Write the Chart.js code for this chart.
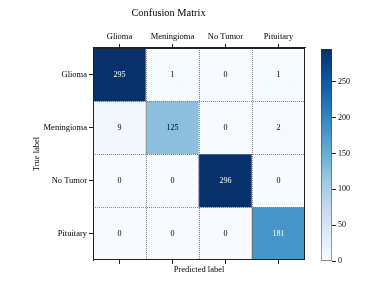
<!DOCTYPE html>
<html>
<head>
<meta charset="utf-8">
<script src="https://cdn.jsdelivr.net/npm/chart.js@4"></script>
<style>
html,body{margin:0;padding:0;background:#fff;}
#wrap{position:relative;width:377px;height:283px;}
#main{position:absolute;left:0;top:0;}
#cbar{position:absolute;left:300px;top:0;}
</style>
</head>
<body>
<div id="wrap">
<canvas id="main" width="377" height="283"></canvas>
<canvas id="cbar" width="77" height="283"></canvas>
</div>
<script>
// ---- data ----
const predictedLabels = ['Glioma', 'Meningioma', 'No Tumor', 'Pituitary'];
const trueLabels = ['Glioma', 'Meningioma', 'No Tumor', 'Pituitary'];
const rowGlioma = [295, 1, 0, 1];
const rowMeningioma = [9, 125, 0, 2];
const rowNoTumor = [0, 0, 296, 0];
const rowPituitary = [0, 0, 0, 181];
const matrixRows = [rowGlioma, rowMeningioma, rowNoTumor, rowPituitary];
const colorbarTicks = [0, 50, 100, 150, 200, 250];
const colorMin = 0;
const colorMax = 296;

// ---- Blues colormap ----
const bluesStops = ['#f7fbff','#deebf7','#c6dbef','#9ecae1','#6baed6','#4292c6','#2171b5','#08519c','#08306b'];
function hexToRgb(h){return [parseInt(h.slice(1,3),16),parseInt(h.slice(3,5),16),parseInt(h.slice(5,7),16)];}
function blues(v){
  let t = (v - colorMin) / (colorMax - colorMin);
  t = Math.max(0, Math.min(1, t));
  const p = t * (bluesStops.length - 1);
  const i = Math.min(Math.floor(p), bluesStops.length - 2);
  const f = p - i;
  const a = hexToRgb(bluesStops[i]), b = hexToRgb(bluesStops[i+1]);
  const c = a.map((x,k)=>Math.round(x + (b[k]-x)*f));
  return 'rgb(' + c.join(',') + ')';
}

Chart.defaults.color = '#000';
Chart.defaults.font.family = "'Liberation Serif', 'DejaVu Serif', serif";
Chart.defaults.font.size = 8.5;

const FONT = "'Liberation Serif', 'DejaVu Serif', serif";

const datasets = matrixRows.map((row, r) => ({
  label: trueLabels[r],
  data: row.map(() => [r, r + 1]),
  values: row,
  backgroundColor: row.map(v => blues(v)),
  borderWidth: 0,
  barPercentage: 1,
  categoryPercentage: 1,
  grouped: false
}));

const cellPlugin = {
  id: 'cellPlugin',
  afterDatasetsDraw(chart) {
    const ctx = chart.ctx;
    const {x, y} = chart.scales;
    const area = chart.chartArea;
    ctx.save();
    // dotted boundaries
    ctx.strokeStyle = '#666';
    ctx.lineWidth = 0.8;
    ctx.setLineDash([1, 1]);
    for (let i = 0; i < predictedLabels.length - 1; i++) {
      const px = Math.round((x.getPixelForValue(i) + x.getPixelForValue(i + 1)) / 2) + 0.5;
      ctx.beginPath(); ctx.moveTo(px, area.top); ctx.lineTo(px, area.bottom); ctx.stroke();
    }
    for (let j = 1; j < trueLabels.length; j++) {
      const py = Math.round(y.getPixelForValue(j)) + 0.5;
      ctx.beginPath(); ctx.moveTo(area.left, py); ctx.lineTo(area.right, py); ctx.stroke();
    }
    ctx.setLineDash([]);
    // values
    ctx.font = '8px ' + FONT;
    ctx.textAlign = 'center';
    ctx.textBaseline = 'middle';
    chart.data.datasets.forEach((ds, di) => {
      const meta = chart.getDatasetMeta(di);
      meta.data.forEach((el, ci) => {
        const v = ds.values[ci];
        const c = el.getCenterPoint();
        ctx.fillStyle = v > colorMax / 2 ? '#fff' : '#000';
        ctx.fillText(String(v), c.x, c.y);
      });
    });
    // border
    ctx.strokeStyle = '#222';
    ctx.lineWidth = 1;
    ctx.strokeRect(Math.round(area.left) + 0.5, Math.round(area.top) + 0.5,
                   Math.round(area.right - area.left) - 1, Math.round(area.bottom - area.top) - 1);
    ctx.restore();
  }
};

new Chart(document.getElementById('main'), {
  type: 'bar',
  data: { labels: predictedLabels, datasets },
  options: {
    responsive: false,
    animation: false,
    devicePixelRatio: 1,
    layout: { padding: { left: 32, right: 72, top: 0, bottom: 0 } },
    plugins: {
      legend: { display: false },
      tooltip: { enabled: false },
      title: {
        display: true, text: 'Confusion Matrix', color: '#000',
        font: { family: FONT, size: 10.4, weight: 'normal' },
        padding: { top: 7, bottom: 8 }
      }
    },
    scales: {
      x: {
        type: 'category', position: 'top', offset: true,
        grid: { offset: false, drawOnChartArea: false, drawTicks: true, tickLength: 4, tickColor: '#222', tickWidth: 1 },
        border: { display: true, color: '#222' },
        ticks: { padding: 2, maxRotation: 0, autoSkip: false, font: { family: FONT, size: 8.5 } },
        afterFit(s) { s.height = 20.5; }
      },
      x2: {
        type: 'category', position: 'bottom', offset: true, labels: predictedLabels,
        grid: { offset: false, drawOnChartArea: false, drawTicks: true, tickLength: 4, tickColor: '#222', tickWidth: 1 },
        border: { display: false },
        ticks: { display: false },
        title: { display: true, text: 'Predicted label', color: '#000', font: { family: FONT, size: 8.5 }, padding: { top: 0, bottom: 8 } },
        afterFit(s) { s.height = 23; }
      },
      y: {
        type: 'linear', position: 'left', min: 0, max: 4, reverse: true,
        grid: { drawOnChartArea: false, drawTicks: true, tickLength: 4, tickColor: '#222', tickWidth: 1 },
        border: { display: true, color: '#222' },
        afterBuildTicks(s) { s.ticks = [0.5, 1.5, 2.5, 3.5].map(v => ({ value: v })); },
        ticks: { padding: 2, font: { family: FONT, size: 8.5 }, callback: (v) => trueLabels[Math.floor(v)] },
        title: { display: true, text: 'True label', color: '#000', font: { family: FONT, size: 8.5 }, padding: { top: 0, bottom: 0 } },
        afterFit(s) { s.width = 61; }
      }
    }
  },
  plugins: [cellPlugin]
});

// ---- colorbar ----
function cbarGradient(context) {
  const chart = context.chart;
  const area = chart.chartArea;
  if (!area) return bluesStops[0];
  const ys = chart.scales.y;
  const g = chart.ctx.createLinearGradient(0, ys.getPixelForValue(colorMin), 0, ys.getPixelForValue(colorMax));
  bluesStops.forEach((c, i) => g.addColorStop(i / (bluesStops.length - 1), c));
  return g;
}

new Chart(document.getElementById('cbar'), {
  type: 'bar',
  data: {
    labels: [''],
    datasets: [{
      data: [[colorMin, colorMax]],
      backgroundColor: cbarGradient,
      borderColor: '#333', borderWidth: 0.8, borderSkipped: false,
      barPercentage: 1, categoryPercentage: 1
    }]
  },
  options: {
    responsive: false,
    animation: false,
    devicePixelRatio: 1,
    layout: { padding: { left: 21, right: 0, top: 49, bottom: 22 } },
    plugins: { legend: { display: false }, tooltip: { enabled: false } },
    scales: {
      x: { display: false },
      y: {
        position: 'right', min: colorMin, max: colorMax,
        grid: { drawOnChartArea: false, drawTicks: true, tickLength: 4, tickColor: '#222', tickWidth: 1 },
        border: { display: false },
        afterBuildTicks(s) { s.ticks = colorbarTicks.map(v => ({ value: v })); },
        ticks: { padding: 2, font: { family: FONT, size: 8 } },
        afterFit(s) { s.width = 45; }
      }
    }
  }
});
</script>
</body>
</html>
